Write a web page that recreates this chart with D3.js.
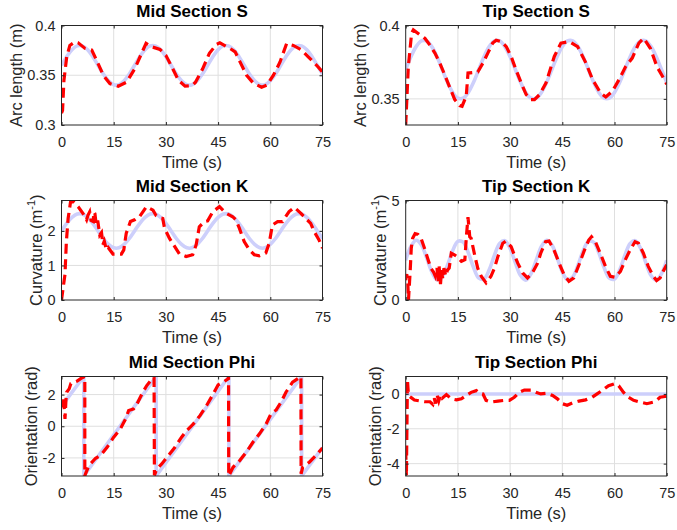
<!DOCTYPE html>
<html>
<head>
<meta charset="utf-8">
<script src="https://cdn.jsdelivr.net/npm/d3@7"></script>
<style>
  body { margin: 0; background: #fff; }
  svg { font-family: "Liberation Sans", Arial, sans-serif; }
</style>
</head>
<body>
<svg id="chart" width="677" height="530"></svg>
<script>
/* tick labels */
const timeTicks = [0, 15, 30, 45, 60, 75];
const midSTicks = [0.3, 0.35, 0.4];
const tipSTicks = [0.35, 0.4];
const midKTicks = [0, 1, 2];
const tipKTicks = [0, 5];
const midPhiTicks = [-2, 0, 2];
const tipPhiTicks = [-4, -2, 0];

/* sample times of the reference (lavender) curves */
const refTime = [0, 1.5, 3, 4.5, 6, 7.5, 9, 10.5, 12, 13.5, 15, 16.5, 18, 19.5, 21, 22.5, 24, 25.5,
  27, 28.5, 30, 31.5, 33, 34.5, 36, 37.5, 39, 40.5, 42, 43.5, 45, 46.5, 48, 49.5, 51, 52.5, 54,
  55.5, 57, 58.5, 60, 61.5, 63, 64.5, 66, 67.5, 69, 70.5, 72, 73.5, 75];

/* reference values */
const refMidS = [0.360, 0.3687, 0.3756, 0.3795, 0.3795, 0.3756, 0.3687, 0.360, 0.3513, 0.3444, 0.3405, 0.3405, 0.3444, 0.3513,
  0.360, 0.3687, 0.3756, 0.3795, 0.3795, 0.3756, 0.3687, 0.360, 0.3513, 0.3444, 0.3405, 0.3405, 0.3444, 0.3513,
  0.360, 0.3687, 0.3756, 0.3795, 0.3795, 0.3756, 0.3687, 0.360, 0.3513, 0.3444, 0.3405, 0.3405, 0.3444, 0.3513,
  0.360, 0.3687, 0.3756, 0.3795, 0.3795, 0.3756, 0.3687, 0.360, 0.3513];
const refTipS = [0.370, 0.3787, 0.3856, 0.3895, 0.3895, 0.3856, 0.3787, 0.370, 0.3613, 0.3544, 0.3505, 0.3505, 0.3544, 0.3613,
  0.370, 0.3787, 0.3856, 0.3895, 0.3895, 0.3856, 0.3787, 0.370, 0.3613, 0.3544, 0.3505, 0.3505, 0.3544, 0.3613,
  0.370, 0.3787, 0.3856, 0.3895, 0.3895, 0.3856, 0.3787, 0.370, 0.3613, 0.3544, 0.3505, 0.3505, 0.3544, 0.3613,
  0.370, 0.3787, 0.3856, 0.3895, 0.3895, 0.3856, 0.3787, 0.370, 0.3613];
const refMidK = [2.00, 2.22, 2.39, 2.49, 2.49, 2.39, 2.22, 2.00, 1.78, 1.61, 1.51, 1.51, 1.61, 1.78,
  2.00, 2.22, 2.39, 2.49, 2.49, 2.39, 2.22, 2.00, 1.78, 1.61, 1.51, 1.51, 1.61, 1.78,
  2.00, 2.22, 2.39, 2.49, 2.49, 2.39, 2.22, 2.00, 1.78, 1.61, 1.51, 1.51, 1.61, 1.78,
  2.00, 2.22, 2.39, 2.49, 2.49, 2.39, 2.22, 2.00, 1.78];
const refTipK = [2.00, 2.69, 3.00, 2.77, 2.13, 1.41, 1.02, 1.16, 1.75, 2.48, 2.95, 2.91, 2.37, 1.63, 1.10, 1.05, 1.52,
  2.25, 2.84, 2.98, 2.59, 1.88, 1.23, 1.00, 1.32,
  2.00, 2.69, 3.00, 2.77, 2.13, 1.41, 1.02, 1.16, 1.75, 2.48, 2.95, 2.91, 2.37, 1.63, 1.10, 1.05, 1.52,
  2.25, 2.84, 2.98, 2.59, 1.88, 1.23, 1.00, 1.32, 2.00];
const refMidPhi = [[0, 1.25], [6.4, 3.14], [6.4, -3.14], [27.2, 3.14], [27.2, -3.14], [48.1, 3.14], [48.1, -3.14],
  [69.0, 3.14], [69.0, -3.14], [75, -1.35]];
const refTipPhi = [[0, 0], [75, 0]];

/* measured values [time, value] */
const measMidS = [[0, 0.312], [0.3, 0.3146], [0.7, 0.345], [1.5, 0.3685], [2.4, 0.380], [3.9, 0.3836], [4.8, 0.3826],
  [6.75, 0.377], [8.7, 0.3753], [10.1, 0.365], [12, 0.350], [13.9, 0.3416], [16.3, 0.3389], [18.7, 0.343],
  [21.1, 0.3568], [23, 0.372], [24.3, 0.382], [25.9, 0.3786], [28.3, 0.376], [30, 0.370], [31.7, 0.3584],
  [33.6, 0.345], [35.5, 0.339], [37.5, 0.3395], [38.5, 0.343], [40.5, 0.356], [42.5, 0.372], [44.5, 0.381],
  [45.5, 0.3826], [48.4, 0.377], [49.9, 0.3735], [51.3, 0.3634], [53.2, 0.350], [55.1, 0.3422], [57.5, 0.338],
  [59, 0.340], [60.9, 0.350], [62.8, 0.3634], [64.7, 0.382], [66.6, 0.380], [69, 0.3753], [70.9, 0.3685],
  [73.3, 0.360], [75, 0.3533]];
const measTipS = [[0, 0.3322], [0.75, 0.372], [1.7, 0.3947], [2.2, 0.397], [4.1, 0.3936], [5.5, 0.3913], [6.9, 0.3868],
  [8.4, 0.3812], [9.8, 0.3744], [11.2, 0.3665], [12.7, 0.3575], [14.1, 0.3495], [15.5, 0.3455], [16.2, 0.345],
  [17.4, 0.3518], [17.9, 0.3676], [20.7, 0.3683], [22.2, 0.3744], [23.6, 0.3812], [25, 0.388], [26, 0.390],
  [27.5, 0.389], [28.9, 0.3856], [30.3, 0.3789], [31.7, 0.3698], [33.2, 0.3608], [34.6, 0.353], [36, 0.3495],
  [37, 0.3495], [38.5, 0.353], [40.3, 0.3608], [42.7, 0.3789], [44.6, 0.388], [47, 0.389], [49.4, 0.3856],
  [51.8, 0.3744], [53.7, 0.3631], [56, 0.354], [57.5, 0.3513], [59.4, 0.3552], [61.3, 0.3631], [63.2, 0.372],
  [65.1, 0.3778], [67, 0.388], [68.4, 0.3913], [70.3, 0.3845], [72.2, 0.372], [74.6, 0.3619], [75, 0.360]];
const measMidK = [[0, 0], [1, 0.74], [1.4, 1.69], [1.9, 2.36], [2.6, 2.84], [3.3, 2.86], [4.8, 2.70], [6.2, 2.5],
  [7.2, 2.32], [7.6, 2.45], [8.1, 2.55], [8.5, 2.3], [9.1, 2.27], [9.3, 2.55], [9.6, 2.5], [10, 2.17], [10.4, 2.3],
  [11, 1.88], [11.5, 1.95], [11.9, 1.6], [12.3, 1.7], [12.9, 1.45], [13.4, 1.52], [14.8, 1.33], [17.2, 1.33],
  [17.9, 1.45], [18.6, 1.93], [19.8, 2.27], [21, 2.32], [22.4, 2.41], [24.4, 2.70], [26.3, 2.6], [27.2, 2.44],
  [28.2, 2.38], [29.1, 2.36], [29.6, 2.08], [31, 1.79], [32.5, 1.55], [33.9, 1.33], [35.8, 1.26], [37.7, 1.31],
  [38.7, 1.6], [39.6, 2.12], [41.1, 2.27], [42, 2.29], [43.5, 2.56], [45.4, 2.70], [47.3, 2.51], [49.2, 2.41],
  [50.1, 2.32], [51.1, 2.08], [52.5, 1.69], [54, 1.45], [55.4, 1.31], [56.8, 1.28], [58.7, 1.36], [59.7, 1.65],
  [60.6, 2.17], [62.1, 2.27], [63.5, 2.27], [65.4, 2.56], [66.9, 2.68], [68.8, 2.51], [70.2, 2.36], [71.6, 2.22],
  [72.6, 1.98], [74, 1.74], [75, 1.5]];
const measTipK = [[0, 1.0], [0.3, 1.3], [0.6, 0.9], [0.8, 0], [1.0, 0.6], [1.3, 1.5], [1.6, 2.6], [2.0, 3.1],
  [2.7, 3.34], [3.5, 3.3], [4.5, 3.05], [5.4, 2.6], [6.3, 2.1], [7.2, 1.6], [8, 1.4], [8.5, 1.2], [9, 1.6],
  [9.3, 0.9], [9.6, 1.7], [10, 0.8], [10.3, 1.5], [10.6, 1.1], [11, 1.6], [11.5, 1.2], [12, 1.5], [12.5, 1.6],
  [13.1, 2.35], [14, 2.27], [14.6, 2.2], [16, 1.94], [17, 2.02], [17.4, 3.1], [17.9, 4.17], [18.4, 3.18],
  [18.8, 3.1], [19.8, 2.27], [20.7, 1.6], [21.7, 1.19], [23.1, 0.86], [24.5, 1.19], [25.5, 1.6], [26.5, 2.19],
  [27.9, 2.85], [28.8, 2.96], [30.3, 2.68], [31.2, 2.27], [32.2, 1.85], [33.6, 1.36], [35, 1.11], [36.4, 1.36],
  [37.9, 1.85], [38.8, 2.35], [40.2, 2.93], [41.2, 2.96], [42.6, 2.52], [44.1, 1.85], [45.5, 1.27], [46.9, 0.94],
  [48.3, 1.11], [49.8, 1.77], [51.2, 2.43], [52.6, 3.01], [53.4, 3.18], [54.5, 2.93], [55.9, 2.35], [57.4, 1.69],
  [58.8, 1.19], [60.2, 1.14], [61.7, 1.44], [63.1, 2.02], [64.5, 2.52], [65.9, 2.93], [66.9, 2.85], [68.3, 2.35],
  [69.7, 1.69], [71.2, 1.19], [72.1, 0.98], [73.1, 1.11], [74, 1.44], [75, 1.77]];
const measMidPhi = [[0, 1.62], [0.3, 1.2], [0.6, 1.73], [1.0, 0.46], [1.3, 1.73], [1.5, 2.15], [2.2, 2.36],
  [2.7, 2.7], [4.5, 2.85], [5.8, 3.05], [6.7, 3.14], [6.7, -3.14], [6.9, -3.0], [7.9, -2.48], [9.8, -2.02],
  [11.2, -1.85], [13.1, -1.33], [15, -0.69], [16.9, -0.17], [18.4, 0.46], [19.3, 0.99], [20.7, 1.09],
  [21.7, 1.41], [23.1, 2.04], [24.5, 2.57], [26, 2.99], [26.6, 3.09], [26.7, -3.1], [27.4, -2.69], [28.8, -2.38],
  [30.7, -1.85], [32.6, -1.33], [34.5, -0.69], [36, -0.27], [37.9, 0.15], [39.8, 0.67], [41.7, 1.31], [43.6, 2.04],
  [45, 2.61], [46.4, 2.78], [47.9, 2.99], [48, 3.14], [48.05, -3.14], [49.3, -2.59], [51.2, -2.17], [53.1, -1.64],
  [55, -1.01], [56.9, -0.48], [58.8, 0.15], [60.2, 0.78], [61.7, 1.03], [63.1, 1.52], [64.5, 2.15], [66.4, 2.78],
  [67.8, 2.99], [68.8, 3.14], [68.85, -3.0], [69.3, -2.59], [71.2, -2.27], [73.1, -1.85], [75, -1.37]];
const measTipPhi = [[0, -3.2], [0.2, -4.7], [0.5, 0.8], [0.8, -0.1], [1.5, -0.2], [2.5, -0.35], [4, -0.4],
  [5.5, -0.45], [7, -0.45], [7.8, -0.6], [8.2, -0.25], [8.6, -0.55], [9, -0.05], [9.5, -0.4], [10, -0.05],
  [10.5, -0.25], [11.7, -0.04], [13.1, -0.28], [14.6, -0.34], [16, -0.28], [17.4, -0.09], [18.8, 0.09],
  [20.3, 0.19], [21.2, 0.04], [22.2, 0], [23.1, -0.37], [24.5, -0.47], [26.5, -0.41], [28.4, -0.37], [29.8, -0.37],
  [31.2, -0.19], [32.6, 0.09], [34.1, 0.22], [36, 0.22], [37.4, 0.09], [38.8, 0], [40.7, 0.04], [42.2, -0.09],
  [43.6, -0.28], [45, -0.56], [46.4, -0.65], [47.9, -0.52], [49.8, -0.41], [51.7, -0.34], [53.6, -0.19], [55, 0],
  [56.4, 0.19], [58.3, 0.47], [60.2, 0.6], [61.2, 0.47], [62.6, 0.09], [64, -0.19], [65.5, -0.37], [67.4, -0.47],
  [69.3, -0.56], [71.2, -0.47], [72.1, -0.37], [73.1, -0.19], [75, -0.13]];

/* panel setup */
const colLeft = [61.5, 405.7];
const rowTop = [25.5, 200.5, 376.5];
const width = 261, height = 99.5;

const pair = (vals) => vals.map((v, i) => [refTime[i], v]);

const panels = [
  { title: "Mid Section S", ylabel: "Arc length (m)", yDomain: [0.3, 0.4], yTicks: midSTicks, ref: pair(refMidS), refSmooth: true, meas: measMidS, col: 0, row: 0 },
  { title: "Tip Section S", ylabel: "Arc length (m)", yDomain: [0.3322, 0.4], yTicks: tipSTicks, ref: pair(refTipS), refSmooth: true, meas: measTipS, col: 1, row: 0 },
  { title: "Mid Section K", ylabel: "curv", yDomain: [0, 2.88], yTicks: midKTicks, ref: pair(refMidK), refSmooth: true, meas: measMidK, col: 0, row: 1 },
  { title: "Tip Section K", ylabel: "curv", yDomain: [0, 5], yTicks: tipKTicks, ref: pair(refTipK), refSmooth: true, meas: measTipK, col: 1, row: 1 },
  { title: "Mid Section Phi", ylabel: "Orientation (rad)", yDomain: [-Math.PI, Math.PI], yTicks: midPhiTicks, ref: refMidPhi, refSmooth: false, meas: measMidPhi, col: 0, row: 2 },
  { title: "Tip Section Phi", ylabel: "Orientation (rad)", yDomain: [-4.71, 1], yTicks: tipPhiTicks, ref: refTipPhi, refSmooth: false, meas: measTipPhi, col: 1, row: 2 }
];

const svg = d3.select("#chart");
const textColor = "#262626";

panels.forEach((p, i) => {
  const left = colLeft[p.col], top = rowTop[p.row];
  const g = svg.append("g").attr("transform", `translate(${left}, ${top})`);

  const x = d3.scaleLinear().domain([0, 75]).range([0, width]);
  const y = d3.scaleLinear().domain(p.yDomain).range([height, 0]);

  /* grid */
  g.append("g").selectAll("line").data(timeTicks.slice(1, -1)).join("line")
    .attr("x1", d => x(d)).attr("x2", d => x(d)).attr("y1", 0).attr("y2", height)
    .attr("stroke", "#dfdfdf").attr("stroke-width", 1);
  g.append("g").selectAll("line").data(p.yTicks.filter(d => y(d) > 1 && y(d) < height - 1)).join("line")
    .attr("x1", 0).attr("x2", width).attr("y1", d => y(d)).attr("y2", d => y(d))
    .attr("stroke", "#dfdfdf").attr("stroke-width", 1);

  /* lines */
  g.append("clipPath").attr("id", "clip" + i)
    .append("rect").attr("width", width).attr("height", height);
  const plot = g.append("g").attr("clip-path", `url(#clip${i})`);

  const line = d3.line().x(d => x(d[0])).y(d => y(d[1]));
  plot.append("path")
    .datum(p.ref)
    .attr("fill", "none")
    .attr("stroke", "#cdcffb")
    .attr("stroke-width", 3.6)
    .attr("d", line.curve(p.refSmooth ? d3.curveCatmullRom : d3.curveLinear));
  plot.append("path")
    .datum(p.meas)
    .attr("fill", "none")
    .attr("stroke", "#ff0000")
    .attr("stroke-width", 3.2)
    .attr("stroke-dasharray", "10,5.5")
    .attr("d", line.curve(d3.curveLinear));

  /* axes */
  const xAxis = g.append("g")
    .attr("transform", `translate(0, ${height})`)
    .call(d3.axisBottom(x).tickValues(timeTicks).tickSizeInner(-3).tickSizeOuter(0).tickPadding(12));
  const yAxis = g.append("g")
    .call(d3.axisLeft(y).tickValues(p.yTicks).tickFormat(d => String(d)).tickSizeInner(-3).tickSizeOuter(0).tickPadding(6));
  g.append("g").call(d3.axisTop(x).tickValues(timeTicks).tickSizeInner(-3).tickSizeOuter(0).tickFormat(""));
  g.append("g").attr("transform", `translate(${width}, 0)`)
    .call(d3.axisRight(y).tickValues(p.yTicks).tickSizeInner(-3).tickSizeOuter(0).tickFormat(""));

  g.selectAll(".domain").remove();
  g.selectAll(".tick line").attr("stroke", textColor);
  [xAxis, yAxis].forEach(a => a.selectAll("text")
    .attr("fill", textColor).style("font-size", "14.5px").style("font-family", "'Liberation Sans', Arial, sans-serif"));

  g.append("rect")
    .attr("width", width).attr("height", height)
    .attr("fill", "none").attr("stroke", textColor).attr("stroke-width", 1);

  /* title and labels */
  g.append("text")
    .attr("x", width / 2).attr("y", -8.5)
    .attr("text-anchor", "middle")
    .attr("font-weight", "bold").attr("font-size", 17)
    .attr("fill", "#000")
    .text(p.title);

  g.append("text")
    .attr("x", width / 2).attr("y", height + 43)
    .attr("text-anchor", "middle")
    .attr("font-size", 16.5).attr("fill", textColor)
    .text("Time (s)");

  const labelX = yAxis.node().getBBox().x - 5.5;
  const yl = g.append("text")
    .attr("transform", `translate(${labelX}, ${height / 2}) rotate(-90)`)
    .attr("text-anchor", "middle")
    .attr("font-size", 16.5).attr("fill", textColor);
  if (p.ylabel === "curv") {
    yl.append("tspan").text("Curvature (m");
    yl.append("tspan").attr("font-size", 11).attr("dy", -7).text("-1");
    yl.append("tspan").attr("dy", 7).text(")");
  } else {
    yl.text(p.ylabel);
  }
});
</script>
</body>
</html>
